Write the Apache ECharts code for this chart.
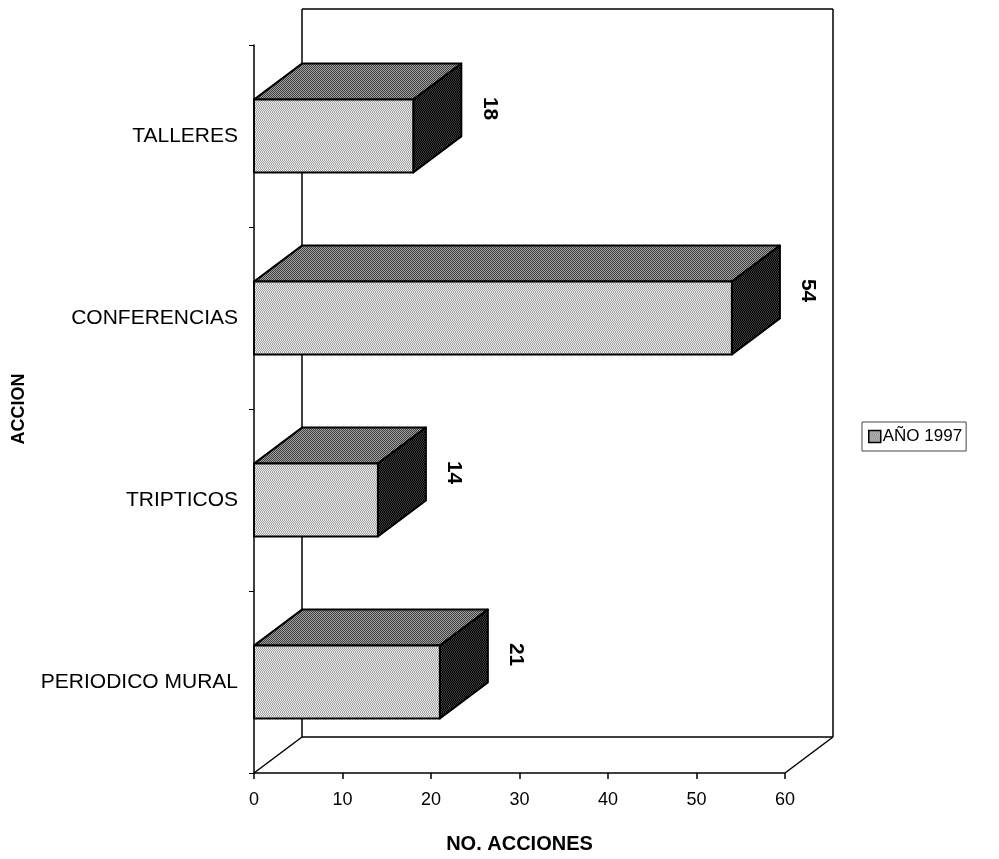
<!DOCTYPE html>
<html>
<head>
<meta charset="utf-8">
<script src="https://cdn.jsdelivr.net/npm/echarts@6/dist/echarts.min.js"></script>
<style>
  html, body { margin: 0; padding: 0; background: #fff; }
  #chart { width: 999px; height: 859px; }
</style>
</head>
<body>
<div id="chart"></div>
<script>
// Actions carried out, count per type
const categories = ['TALLERES', 'CONFERENCIAS', 'TRIPTICOS', 'PERIODICO MURAL'];
const values = [18, 54, 14, 21];
const seriesName = 'AÑO 1997';
const xMin = 0, xMax = 60, xStep = 10;
const xTitle = 'NO. ACCIONES';
const yTitle = 'ACCION';

// Depth offset of the pseudo-3D box (pixels)
const DX = 48, DY = -36;
const FONT = '"Liberation Sans", Arial, sans-serif';

// Dithered fill built from two grey tones
function ditherPattern(c1, c2, seed) {
  const size = 8;
  const cv = document.createElement('canvas');
  cv.width = size; cv.height = size;
  const ctx = cv.getContext('2d');
  ctx.fillStyle = c1;
  ctx.fillRect(0, 0, size, size);
  ctx.fillStyle = c2;
  const bayer = [0, 8, 2, 10, 12, 4, 14, 6, 3, 11, 1, 9, 15, 7, 13, 5];
  for (let y = 0; y < size; y++) {
    for (let x = 0; x < size; x++) {
      const b = bayer[(y % 4) * 4 + ((x + (y >> 2) * seed) % 4)];
      if (b < 8) ctx.fillRect(x, y, 1, 1);
    }
  }
  return { image: cv, repeat: 'repeat' };
}

const frontFill = ditherPattern('#ececec', '#a0a0a0', 1);
const topFill = ditherPattern('#a0a0a0', '#404040', 2);
const sideFill = ditherPattern('#3a3a3a', '#050505', 3);
const swatchFill = ditherPattern('#d8d8d8', '#707070', 1);

const chart = echarts.init(document.getElementById('chart'));

function frameItem(params, api) {
  const cs = params.coordSys;
  const x0 = cs.x, y0 = cs.y, x1 = cs.x + cs.width, y1 = cs.y + cs.height;
  const line = (a, b, c, d) => ({
    type: 'line',
    shape: { x1: a, y1: b, x2: c, y2: d },
    style: { stroke: '#000', lineWidth: 1.5 }
  });
  return {
    type: 'group',
    children: [
      // back wall
      line(x0 + DX, y0 + DY, x1 + DX, y0 + DY),
      line(x0 + DX, y0 + DY, x0 + DX, y1 + DY),
      line(x1 + DX, y0 + DY, x1 + DX, y1 + DY),
      // floor
      line(x0 + DX, y1 + DY, x1 + DX, y1 + DY),
      line(x0, y1, x0 + DX, y1 + DY),
      line(x1, y1, x1 + DX, y1 + DY)
    ]
  };
}

function barItem(params, api) {
  const idx = api.value(0);
  const val = api.value(1);
  const p0 = api.coord([0, idx]);
  const p1 = api.coord([val, idx]);
  const band = api.size([0, 1])[1];
  const h = band * 0.4;
  const xl = p0[0], xr = p1[0];
  const yt = p0[1] - h / 2, yb = p0[1] + h / 2;
  const edge = { stroke: '#000', lineWidth: 2, lineJoin: 'round' };
  return {
    type: 'group',
    children: [
      {
        type: 'polygon',
        shape: { points: [[xl, yt], [xl + DX, yt + DY], [xr + DX, yt + DY], [xr, yt]] },
        style: Object.assign({ fill: topFill }, edge)
      },
      {
        type: 'polygon',
        shape: { points: [[xr, yt], [xr + DX, yt + DY], [xr + DX, yb + DY], [xr, yb]] },
        style: Object.assign({ fill: sideFill }, edge)
      },
      {
        type: 'rect',
        shape: { x: xl, y: yt, width: xr - xl, height: h },
        style: Object.assign({ fill: frontFill }, edge)
      },
      {
        type: 'text',
        x: xr + DX + 28,
        y: yt + 9,
        rotation: -Math.PI / 2,
        style: {
          text: String(val),
          font: 'bold 21px ' + FONT,
          fill: '#000',
          align: 'center',
          verticalAlign: 'middle'
        }
      }
    ]
  };
}

chart.setOption({
  animation: false,
  backgroundColor: '#fff',
  grid: { left: 254, right: 214, top: 45, bottom: 86, containLabel: false },
  legend: {
    left: 862,
    top: 422,
    orient: 'vertical',
    data: [{ name: seriesName, icon: 'rect', itemStyle: { color: swatchFill, borderColor: '#000', borderWidth: 1.5 } }],
    itemWidth: 12,
    itemHeight: 12,
    itemGap: 4,
    padding: [6, 4, 6, 6],
    borderColor: '#444',
    borderWidth: 1,
    textStyle: { fontFamily: FONT, fontSize: 17, color: '#000', padding: [0, 0, 0, -3] }
  },
  xAxis: {
    type: 'value',
    min: xMin,
    max: xMax,
    interval: xStep,
    name: xTitle,
    nameLocation: 'middle',
    nameGap: 61,
    nameTextStyle: { fontFamily: FONT, fontSize: 20, fontWeight: 'bold', color: '#000' },
    axisLine: { show: true, lineStyle: { color: '#000', width: 1.5 } },
    axisTick: { show: true, length: 6, lineStyle: { color: '#000', width: 1.5 } },
    axisLabel: { margin: 18, fontFamily: FONT, fontSize: 18, color: '#000' },
    splitLine: { show: false }
  },
  yAxis: {
    type: 'category',
    inverse: true,
    data: categories,
    name: yTitle,
    nameLocation: 'middle',
    nameRotate: 90,
    nameGap: 226,
    nameTextStyle: { fontFamily: FONT, fontSize: 18, fontWeight: 'bold', color: '#000' },
    axisLine: { show: true, lineStyle: { color: '#000', width: 1.5 } },
    axisTick: { show: true, length: 5, lineStyle: { color: '#000', width: 1 } },
    axisLabel: { margin: 16, fontFamily: FONT, fontSize: 21, color: '#000' }
  },
  series: [
    {
      type: 'custom',
      name: '__frame',
      silent: true,
      z: 1,
      data: [[0, 0]],
      renderItem: frameItem
    },
    {
      type: 'custom',
      name: seriesName,
      z: 3,
      itemStyle: { color: swatchFill },
      encode: { x: 1, y: 0 },
      data: values.map((v, i) => [i, v]),
      renderItem: barItem
    }
  ]
});
</script>
</body>
</html>
